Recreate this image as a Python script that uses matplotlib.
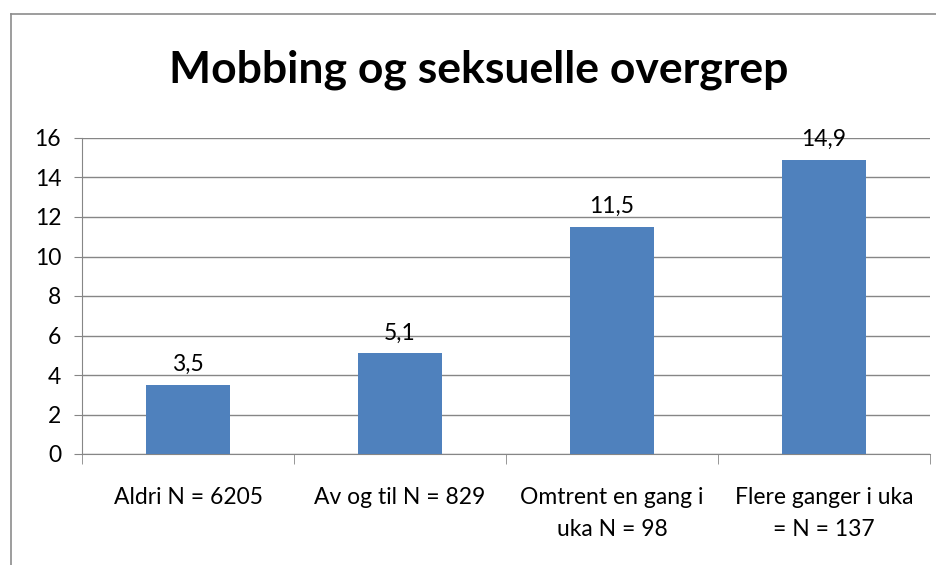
import matplotlib.pyplot as plt
from matplotlib.lines import Line2D

categories = ["Aldri N = 6205", "Av og til N = 829",
              "Omtrent en gang i\nuka N = 98", "Flere ganger i uka\n= N = 137"]
values = [3.5, 5.1, 11.5, 14.9]
value_labels = ["3,5", "5,1", "11,5", "14,9"]
yticks = [0, 2, 4, 6, 8, 10, 12, 14, 16]

W, H = 936, 565
plt.rcParams['font.family'] = ['Lato', 'DejaVu Sans']
fig = plt.figure(figsize=(W / 100, H / 100), dpi=100)

# chart frame (only top and left edges visible)
fig.add_artist(Line2D([11 / W, 11 / W], [0, 1 - 14 / H], color='#8c8c8c', lw=1.2))
fig.add_artist(Line2D([11 / W, 1], [1 - 14 / H, 1 - 14 / H], color='#8c8c8c', lw=1.2))

ax = fig.add_axes([82 / W, (H - 454) / H, 848 / W, 316 / H])
x = list(range(len(categories)))
ax.bar(x, values, width=0.4, color='#4f81bd', zorder=3)
for xi, v, lab in zip(x, values, value_labels):
    ax.annotate(lab, (xi, v), xytext=(0, 7), textcoords='offset points',
                ha='center', va='bottom', fontsize=16.5)

ax.set_xlim(-0.5, 3.5)
ax.set_ylim(0, 16)
ax.set_yticks(yticks)
ax.tick_params(axis='y', labelsize=16.5, length=6, color='#868686', pad=9)
ax.set_xticks(x)
ax.set_xticklabels(categories, fontsize=16.5, linespacing=1.6)
ax.tick_params(axis='x', length=0, pad=24)
ax.set_xticks([-0.5, 0.5, 1.5, 2.5, 3.5], minor=True)
ax.tick_params(axis='x', which='minor', length=7, color='#868686')
ax.grid(axis='y', color='#868686', lw=1, zorder=0)
for s in ['top', 'right']:
    ax.spines[s].set_visible(False)
for s in ['left', 'bottom']:
    ax.spines[s].set_color('#868686')

fig.text(479 / W, 1 - 82 / H, "Mobbing og seksuelle overgrep", ha='center', va='baseline',
         fontsize=32, fontweight='bold')

fig.savefig('out.png', dpi=100)
